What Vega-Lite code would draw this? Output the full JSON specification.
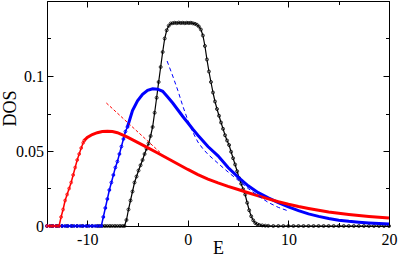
{
  "$schema": "https://vega.github.io/schema/vega-lite/v6.json",
  "width": 342,
  "height": 225,
  "autosize": "none",
  "padding": {"left": 47, "top": 1, "right": 10, "bottom": 31},
  "background": "white",
  "config": {
    "view": {"stroke": null},
    "axis": {
      "domainColor": "black", "domainWidth": 1, "tickColor": "black", "tickWidth": 1,
      "labelColor": "black", "labelFont": "'Liberation Serif', 'Times New Roman', serif", "labelFontSize": 16,
      "titleFont": "'Liberation Serif', 'Times New Roman', serif", "titleFontSize": 18, "titleFontWeight": "normal", "titleColor": "black",
      "grid": false, "labelFlush": false, "labelOverlap": false
    }
  },
  "data": {
    "values": [
      {"series": "black", "E": -14, "DOS": 0}, {"series": "black", "E": -13.5, "DOS": 0}, {"series": "black", "E": -13, "DOS": 0},
      {"series": "black", "E": -12.5, "DOS": 0}, {"series": "black", "E": -12, "DOS": 0}, {"series": "black", "E": -11.5, "DOS": 0},
      {"series": "black", "E": -11, "DOS": 0}, {"series": "black", "E": -10.5, "DOS": 0}, {"series": "black", "E": -10, "DOS": 0},
      {"series": "black", "E": -9.5, "DOS": 0}, {"series": "black", "E": -9, "DOS": 0}, {"series": "black", "E": -8.75, "DOS": 0},
      {"series": "black", "E": -8.5, "DOS": 0}, {"series": "black", "E": -8.25, "DOS": 0}, {"series": "black", "E": -8, "DOS": 0},
      {"series": "black", "E": -7.75, "DOS": 0}, {"series": "black", "E": -7.5, "DOS": 0}, {"series": "black", "E": -7.25, "DOS": 0},
      {"series": "black", "E": -7, "DOS": 0}, {"series": "black", "E": -6.75, "DOS": 0}, {"series": "black", "E": -6.5, "DOS": 0},
      {"series": "black", "E": -6.3, "DOS": 0},
      {"series": "black", "E": -6.1, "DOS": 0.004}, {"series": "black", "E": -5.9, "DOS": 0.011}, {"series": "black", "E": -5.7, "DOS": 0.017},
      {"series": "black", "E": -5.5, "DOS": 0.023}, {"series": "black", "E": -5.3, "DOS": 0.029}, {"series": "black", "E": -5.1, "DOS": 0.033},
      {"series": "black", "E": -4.9, "DOS": 0.037}, {"series": "black", "E": -4.7, "DOS": 0.0405}, {"series": "black", "E": -4.5, "DOS": 0.044},
      {"series": "black", "E": -4.3, "DOS": 0.048}, {"series": "black", "E": -4.1, "DOS": 0.0515}, {"series": "black", "E": -3.9, "DOS": 0.055},
      {"series": "black", "E": -3.7, "DOS": 0.06}, {"series": "black", "E": -3.5, "DOS": 0.066}, {"series": "black", "E": -3.3, "DOS": 0.0755},
      {"series": "black", "E": -3.1, "DOS": 0.0855}, {"series": "black", "E": -2.9, "DOS": 0.096}, {"series": "black", "E": -2.7, "DOS": 0.106},
      {"series": "black", "E": -2.5, "DOS": 0.116}, {"series": "black", "E": -2.3, "DOS": 0.125}, {"series": "black", "E": -2.1, "DOS": 0.1305},
      {"series": "black", "E": -1.9, "DOS": 0.1335}, {"series": "black", "E": -1.7, "DOS": 0.135}, {"series": "black", "E": -1.5, "DOS": 0.1352},
      {"series": "black", "E": -1.3, "DOS": 0.1355}, {"series": "black", "E": -1.1, "DOS": 0.1352}, {"series": "black", "E": -0.9, "DOS": 0.1356},
      {"series": "black", "E": -0.7, "DOS": 0.1353}, {"series": "black", "E": -0.5, "DOS": 0.1355}, {"series": "black", "E": -0.3, "DOS": 0.1352},
      {"series": "black", "E": -0.1, "DOS": 0.1355}, {"series": "black", "E": 0.1, "DOS": 0.1353}, {"series": "black", "E": 0.3, "DOS": 0.1355},
      {"series": "black", "E": 0.5, "DOS": 0.1351}, {"series": "black", "E": 0.7, "DOS": 0.1348}, {"series": "black", "E": 0.9, "DOS": 0.1342},
      {"series": "black", "E": 1.1, "DOS": 0.133}, {"series": "black", "E": 1.3, "DOS": 0.131}, {"series": "black", "E": 1.5, "DOS": 0.127},
      {"series": "black", "E": 1.7, "DOS": 0.12}, {"series": "black", "E": 1.9, "DOS": 0.111}, {"series": "black", "E": 2.1, "DOS": 0.103},
      {"series": "black", "E": 2.3, "DOS": 0.096}, {"series": "black", "E": 2.5, "DOS": 0.089}, {"series": "black", "E": 2.7, "DOS": 0.083},
      {"series": "black", "E": 2.9, "DOS": 0.078}, {"series": "black", "E": 3.1, "DOS": 0.0735}, {"series": "black", "E": 3.3, "DOS": 0.069},
      {"series": "black", "E": 3.5, "DOS": 0.0648}, {"series": "black", "E": 3.7, "DOS": 0.0605}, {"series": "black", "E": 3.9, "DOS": 0.057},
      {"series": "black", "E": 4.1, "DOS": 0.054}, {"series": "black", "E": 4.3, "DOS": 0.0495}, {"series": "black", "E": 4.5, "DOS": 0.0452},
      {"series": "black", "E": 4.7, "DOS": 0.041}, {"series": "black", "E": 4.9, "DOS": 0.0365}, {"series": "black", "E": 5.1, "DOS": 0.032},
      {"series": "black", "E": 5.3, "DOS": 0.0282}, {"series": "black", "E": 5.5, "DOS": 0.0245}, {"series": "black", "E": 5.7, "DOS": 0.021},
      {"series": "black", "E": 5.9, "DOS": 0.0155}, {"series": "black", "E": 6.1, "DOS": 0.0105}, {"series": "black", "E": 6.3, "DOS": 0.0065},
      {"series": "black", "E": 6.5, "DOS": 0.0038}, {"series": "black", "E": 6.7, "DOS": 0.002}, {"series": "black", "E": 6.9, "DOS": 0.0012},
      {"series": "black", "E": 7.1, "DOS": 0.0007}, {"series": "black", "E": 7.4, "DOS": 0.0004}, {"series": "black", "E": 7.7, "DOS": 0.0002},
      {"series": "black", "E": 8, "DOS": 0.0001}, {"series": "black", "E": 8.5, "DOS": 0}, {"series": "black", "E": 9, "DOS": 0},
      {"series": "black", "E": 9.5, "DOS": 0}, {"series": "black", "E": 10, "DOS": 0}, {"series": "black", "E": 10.5, "DOS": 0},
      {"series": "black", "E": 11, "DOS": 0}, {"series": "black", "E": 11.5, "DOS": 0}, {"series": "black", "E": 12, "DOS": 0},
      {"series": "black", "E": 12.5, "DOS": 0}, {"series": "black", "E": 13, "DOS": 0}, {"series": "black", "E": 13.5, "DOS": 0},
      {"series": "black", "E": 14, "DOS": 0}, {"series": "black", "E": 14.5, "DOS": 0}, {"series": "black", "E": 15, "DOS": 0},
      {"series": "black", "E": 15.5, "DOS": 0}, {"series": "black", "E": 16, "DOS": 0}, {"series": "black", "E": 16.5, "DOS": 0},
      {"series": "black", "E": 17, "DOS": 0}, {"series": "black", "E": 17.5, "DOS": 0}, {"series": "black", "E": 18, "DOS": 0},
      {"series": "black", "E": 18.5, "DOS": 0}, {"series": "black", "E": 19, "DOS": 0}, {"series": "black", "E": 19.5, "DOS": 0},
      {"series": "black", "E": 20, "DOS": 0},

      {"series": "bluepts", "E": -14, "DOS": 0}, {"series": "bluepts", "E": -13.7, "DOS": 0}, {"series": "bluepts", "E": -13.4, "DOS": 0},
      {"series": "bluepts", "E": -13.1, "DOS": 0}, {"series": "bluepts", "E": -12.8, "DOS": 0}, {"series": "bluepts", "E": -12.5, "DOS": 0},
      {"series": "bluepts", "E": -12.2, "DOS": 0}, {"series": "bluepts", "E": -11.9, "DOS": 0}, {"series": "bluepts", "E": -11.6, "DOS": 0},
      {"series": "bluepts", "E": -11.3, "DOS": 0}, {"series": "bluepts", "E": -11, "DOS": 0}, {"series": "bluepts", "E": -10.7, "DOS": 0},
      {"series": "bluepts", "E": -10.4, "DOS": 0}, {"series": "bluepts", "E": -10.1, "DOS": 0}, {"series": "bluepts", "E": -9.8, "DOS": 0},
      {"series": "bluepts", "E": -9.5, "DOS": 0}, {"series": "bluepts", "E": -9.2, "DOS": 0}, {"series": "bluepts", "E": -8.9, "DOS": 0},
      {"series": "bluepts", "E": -8.6, "DOS": 0}, {"series": "bluepts", "E": -8.4, "DOS": 0.006}, {"series": "bluepts", "E": -8.2, "DOS": 0.012},
      {"series": "bluepts", "E": -8.0, "DOS": 0.018}, {"series": "bluepts", "E": -7.8, "DOS": 0.024}, {"series": "bluepts", "E": -7.6, "DOS": 0.029},
      {"series": "bluepts", "E": -7.4, "DOS": 0.034}, {"series": "bluepts", "E": -7.2, "DOS": 0.039}, {"series": "bluepts", "E": -7.0, "DOS": 0.043},
      {"series": "bluepts", "E": -6.8, "DOS": 0.048}, {"series": "bluepts", "E": -6.6, "DOS": 0.053}, {"series": "bluepts", "E": -6.4, "DOS": 0.058},
      {"series": "bluepts", "E": -6.2, "DOS": 0.063}, {"series": "bluepts", "E": -6.0, "DOS": 0.066},

      {"series": "bluefit", "E": -6.0, "DOS": 0.066}, {"series": "bluefit", "E": -5.5, "DOS": 0.077}, {"series": "bluefit", "E": -5.0, "DOS": 0.0835},
      {"series": "bluefit", "E": -4.5, "DOS": 0.0878}, {"series": "bluefit", "E": -4.0, "DOS": 0.0905}, {"series": "bluefit", "E": -3.5, "DOS": 0.0915},
      {"series": "bluefit", "E": -3.0, "DOS": 0.0912}, {"series": "bluefit", "E": -2.5, "DOS": 0.0898}, {"series": "bluefit", "E": -2.0, "DOS": 0.086},
      {"series": "bluefit", "E": -1.5, "DOS": 0.082}, {"series": "bluefit", "E": -1.0, "DOS": 0.0775}, {"series": "bluefit", "E": -0.5, "DOS": 0.073},
      {"series": "bluefit", "E": 0, "DOS": 0.0688}, {"series": "bluefit", "E": 0.5, "DOS": 0.0645}, {"series": "bluefit", "E": 1, "DOS": 0.0605},
      {"series": "bluefit", "E": 2, "DOS": 0.053}, {"series": "bluefit", "E": 3, "DOS": 0.0468}, {"series": "bluefit", "E": 4, "DOS": 0.039},
      {"series": "bluefit", "E": 5, "DOS": 0.0326}, {"series": "bluefit", "E": 6, "DOS": 0.0268}, {"series": "bluefit", "E": 7, "DOS": 0.0222},
      {"series": "bluefit", "E": 8, "DOS": 0.0188}, {"series": "bluefit", "E": 9, "DOS": 0.0156}, {"series": "bluefit", "E": 10, "DOS": 0.0127},
      {"series": "bluefit", "E": 11, "DOS": 0.0102}, {"series": "bluefit", "E": 12, "DOS": 0.0081}, {"series": "bluefit", "E": 13, "DOS": 0.0064},
      {"series": "bluefit", "E": 14, "DOS": 0.005}, {"series": "bluefit", "E": 15, "DOS": 0.0039}, {"series": "bluefit", "E": 16, "DOS": 0.0031},
      {"series": "bluefit", "E": 17, "DOS": 0.0025}, {"series": "bluefit", "E": 18, "DOS": 0.002}, {"series": "bluefit", "E": 19, "DOS": 0.0016},
      {"series": "bluefit", "E": 20, "DOS": 0.0013},

      {"series": "redpts", "E": -14, "DOS": 0}, {"series": "redpts", "E": -13.7, "DOS": 0}, {"series": "redpts", "E": -13.4, "DOS": 0},
      {"series": "redpts", "E": -13.1, "DOS": 0}, {"series": "redpts", "E": -12.8, "DOS": 0}, {"series": "redpts", "E": -12.6, "DOS": 0.006},
      {"series": "redpts", "E": -12.4, "DOS": 0.011}, {"series": "redpts", "E": -12.2, "DOS": 0.017}, {"series": "redpts", "E": -12.0, "DOS": 0.021},
      {"series": "redpts", "E": -11.8, "DOS": 0.025}, {"series": "redpts", "E": -11.6, "DOS": 0.029}, {"series": "redpts", "E": -11.4, "DOS": 0.034},
      {"series": "redpts", "E": -11.2, "DOS": 0.039}, {"series": "redpts", "E": -11.0, "DOS": 0.044}, {"series": "redpts", "E": -10.8, "DOS": 0.048},
      {"series": "redpts", "E": -10.6, "DOS": 0.052}, {"series": "redpts", "E": -10.4, "DOS": 0.0555}, {"series": "redpts", "E": -10.3, "DOS": 0.057},

      {"series": "redfit", "E": -10.3, "DOS": 0.057}, {"series": "redfit", "E": -10, "DOS": 0.059}, {"series": "redfit", "E": -9.5, "DOS": 0.061},
      {"series": "redfit", "E": -9, "DOS": 0.0622}, {"series": "redfit", "E": -8.5, "DOS": 0.063}, {"series": "redfit", "E": -8, "DOS": 0.0632},
      {"series": "redfit", "E": -7.5, "DOS": 0.063}, {"series": "redfit", "E": -7, "DOS": 0.0622}, {"series": "redfit", "E": -6.5, "DOS": 0.0608},
      {"series": "redfit", "E": -6, "DOS": 0.0592}, {"series": "redfit", "E": -5, "DOS": 0.0558}, {"series": "redfit", "E": -4, "DOS": 0.0523},
      {"series": "redfit", "E": -3, "DOS": 0.0487}, {"series": "redfit", "E": -2, "DOS": 0.045}, {"series": "redfit", "E": -1, "DOS": 0.0413},
      {"series": "redfit", "E": 0, "DOS": 0.0377}, {"series": "redfit", "E": 1, "DOS": 0.0343}, {"series": "redfit", "E": 2, "DOS": 0.0313},
      {"series": "redfit", "E": 3, "DOS": 0.0287}, {"series": "redfit", "E": 4, "DOS": 0.0264}, {"series": "redfit", "E": 5, "DOS": 0.0243},
      {"series": "redfit", "E": 6, "DOS": 0.0222}, {"series": "redfit", "E": 7, "DOS": 0.0201}, {"series": "redfit", "E": 8, "DOS": 0.0181},
      {"series": "redfit", "E": 9, "DOS": 0.0162}, {"series": "redfit", "E": 10, "DOS": 0.0145}, {"series": "redfit", "E": 11, "DOS": 0.013},
      {"series": "redfit", "E": 12, "DOS": 0.0117}, {"series": "redfit", "E": 13, "DOS": 0.0105}, {"series": "redfit", "E": 14, "DOS": 0.0094},
      {"series": "redfit", "E": 15, "DOS": 0.0085}, {"series": "redfit", "E": 16, "DOS": 0.0077}, {"series": "redfit", "E": 17, "DOS": 0.007},
      {"series": "redfit", "E": 18, "DOS": 0.0064}, {"series": "redfit", "E": 19, "DOS": 0.0058}, {"series": "redfit", "E": 20, "DOS": 0.0053},

      {"series": "reddash", "E": -8.1, "DOS": 0.082}, {"series": "reddash", "E": -2.75, "DOS": 0.049},

      {"series": "bluedash", "E": -2.06, "DOS": 0.11}, {"series": "bluedash", "E": -1.5, "DOS": 0.1}, {"series": "bluedash", "E": -1.0, "DOS": 0.0905},
      {"series": "bluedash", "E": -0.5, "DOS": 0.08}, {"series": "bluedash", "E": 0, "DOS": 0.0705}, {"series": "bluedash", "E": 0.5, "DOS": 0.0625},
      {"series": "bluedash", "E": 1, "DOS": 0.056}, {"series": "bluedash", "E": 1.5, "DOS": 0.0515}, {"series": "bluedash", "E": 2, "DOS": 0.0478},
      {"series": "bluedash", "E": 3, "DOS": 0.0418}, {"series": "bluedash", "E": 4, "DOS": 0.036}, {"series": "bluedash", "E": 5, "DOS": 0.0305},
      {"series": "bluedash", "E": 6, "DOS": 0.025}, {"series": "bluedash", "E": 7, "DOS": 0.0201}, {"series": "bluedash", "E": 8, "DOS": 0.0157},
      {"series": "bluedash", "E": 9, "DOS": 0.0124}, {"series": "bluedash", "E": 10, "DOS": 0.01}
    ]
  },
  "resolve": {"axis": {"x": "independent", "y": "independent"}},
  "layer": [
    {
      "transform": [{"filter": "datum.series === 'black'"}],
      "mark": {"type": "line", "color": "black", "strokeWidth": 1.2, "point": {"filled": false, "size": 9, "strokeWidth": 0.8, "color": "black"}},
      "encoding": {
        "x": {"field": "E", "type": "quantitative", "scale": {"domain": [-14, 20], "nice": false, "zero": false},
          "axis": {"orient": "bottom", "values": [-10, 0, 10, 20], "tickSize": -6, "labelPadding": 11, "labelExpr": "toString(datum.value)",
            "title": "E", "titleX": 171, "titleY": 27, "titleAlign": "center", "titleBaseline": "alphabetic"}},
        "y": {"field": "DOS", "type": "quantitative", "scale": {"domain": [0, 0.15], "nice": false},
          "axis": {"orient": "left", "values": [0, 0.05, 0.1], "tickSize": -6, "labelPadding": 9.5, "labelExpr": "toString(datum.value)",
            "title": "DOS", "titleX": -32, "titleY": 107, "titleAngle": -90, "titleAlign": "center", "titleBaseline": "alphabetic"}}
      }
    },
    {
      "transform": [{"filter": "datum.series === 'bluepts'"}],
      "mark": {"type": "line", "color": "#0000ff", "strokeWidth": 1.5, "point": {"filled": false, "size": 8, "strokeWidth": 1, "color": "#0000ff"}},
      "encoding": {
        "x": {"field": "E", "type": "quantitative", "scale": {"domain": [-14, 20], "nice": false, "zero": false},
          "axis": {"orient": "top", "values": [-10, 0, 10, 20], "tickSize": -6, "labels": false, "title": null}},
        "y": {"field": "DOS", "type": "quantitative", "scale": {"domain": [0, 0.15], "nice": false},
          "axis": {"orient": "right", "values": [0, 0.05, 0.1], "tickSize": -6, "labels": false, "title": null}}
      }
    },
    {
      "transform": [{"filter": "datum.series === 'bluefit'"}],
      "mark": {"type": "line", "color": "#0000ff", "strokeWidth": 3},
      "encoding": {
        "x": {"field": "E", "type": "quantitative", "scale": {"domain": [-14, 20], "nice": false, "zero": false},
          "axis": {"orient": "bottom", "values": [-5, 5, 15], "tickSize": -3.5, "labels": false, "title": null}},
        "y": {"field": "DOS", "type": "quantitative", "scale": {"domain": [0, 0.15], "nice": false},
          "axis": {"orient": "left", "values": [0.025, 0.075, 0.125], "tickSize": -3.5, "labels": false, "title": null}}
      }
    },
    {
      "transform": [{"filter": "datum.series === 'redpts'"}],
      "mark": {"type": "line", "color": "#ff0000", "strokeWidth": 1.5, "point": {"filled": false, "size": 8, "strokeWidth": 0.8, "color": "#ff0000"}},
      "encoding": {
        "x": {"field": "E", "type": "quantitative", "scale": {"domain": [-14, 20], "nice": false, "zero": false},
          "axis": {"orient": "top", "values": [-5, 5, 15], "tickSize": -3.5, "labels": false, "title": null}},
        "y": {"field": "DOS", "type": "quantitative", "scale": {"domain": [0, 0.15], "nice": false},
          "axis": {"orient": "right", "values": [0.025, 0.075, 0.125], "tickSize": -3.5, "labels": false, "title": null}}
      }
    },
    {
      "transform": [{"filter": "datum.series === 'redfit'"}],
      "mark": {"type": "line", "color": "#ff0000", "strokeWidth": 3},
      "encoding": {
        "x": {"field": "E", "type": "quantitative", "scale": {"domain": [-14, 20], "nice": false, "zero": false}, "axis": null},
        "y": {"field": "DOS", "type": "quantitative", "scale": {"domain": [0, 0.15], "nice": false}, "axis": null}
      }
    },
    {
      "transform": [{"filter": "datum.series === 'reddash'"}],
      "mark": {"type": "line", "color": "#ff0000", "strokeWidth": 1, "strokeDash": [3, 2]},
      "encoding": {
        "x": {"field": "E", "type": "quantitative", "scale": {"domain": [-14, 20], "nice": false, "zero": false}, "axis": null},
        "y": {"field": "DOS", "type": "quantitative", "scale": {"domain": [0, 0.15], "nice": false}, "axis": null}
      }
    },
    {
      "transform": [{"filter": "datum.series === 'bluedash'"}],
      "mark": {"type": "line", "color": "#0000ff", "strokeWidth": 1, "strokeDash": [4, 3]},
      "encoding": {
        "x": {"field": "E", "type": "quantitative", "scale": {"domain": [-14, 20], "nice": false, "zero": false}, "axis": null},
        "y": {"field": "DOS", "type": "quantitative", "scale": {"domain": [0, 0.15], "nice": false}, "axis": null}
      }
    }
  ]
}
